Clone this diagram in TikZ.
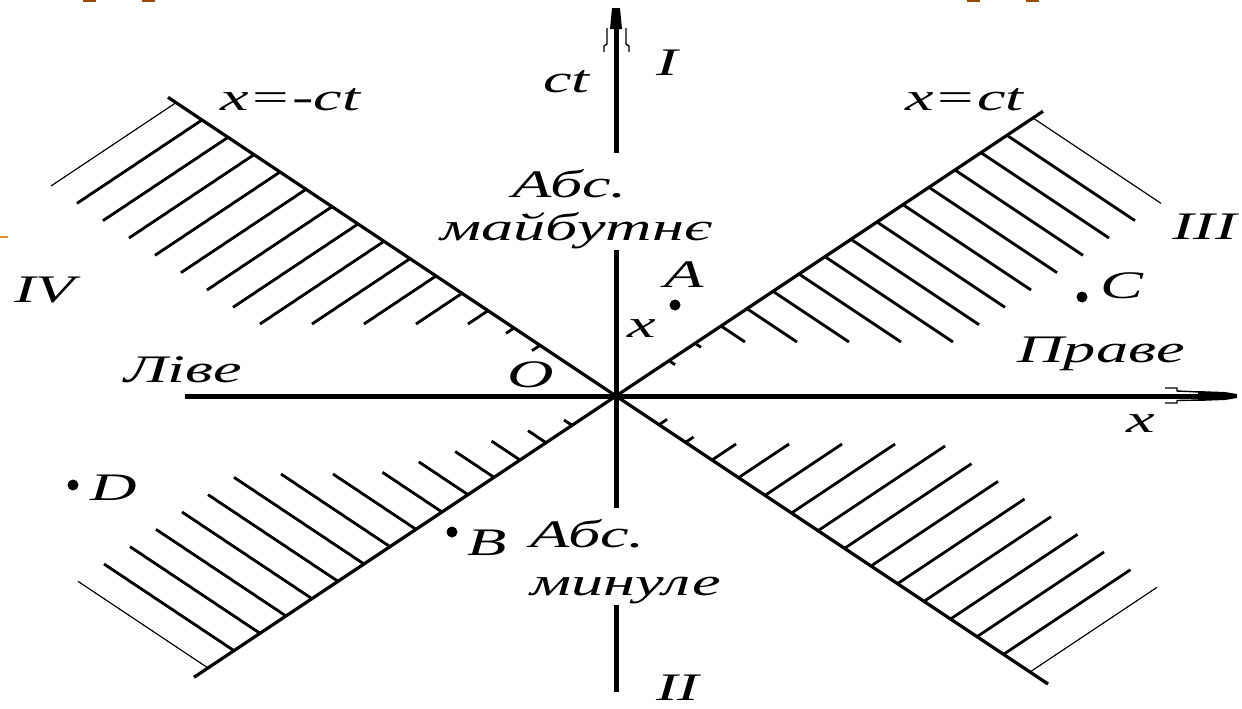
\documentclass[tikz,border=0pt]{standalone}
\usepackage{fontspec}
\newfontfamily\labfont[FakeStretch=1.65]{Liberation Serif}
\definecolor{tabbrown}{HTML}{9A4A00}
\definecolor{taborange}{HTML}{E0901E}
\begin{document}
\begin{tikzpicture}[x=0.5pt,y=-0.5pt,
  lab/.style={font=\labfont\itshape\fontsize{19.5}{20}\selectfont, inner sep=0pt, anchor=base west},
  axisline/.style={line width=2.5pt},
  cone/.style={line width=1.6pt},
  hatchline/.style={line width=1.4pt},
  thinhatch/.style={line width=0.6pt},
  barb/.style={line width=0.7pt},
  event/.style={circle, fill=black, inner sep=0pt, minimum size=5.5pt}]
\useasboundingbox[fill=white] (0,0) rectangle (1242,708);
% slide remnants
\fill[tabbrown] (83,0) rectangle (96,2);
\fill[tabbrown] (142,0) rectangle (155,2);
\fill[tabbrown] (967,0) rectangle (980,2);
\fill[tabbrown] (1026,0) rectangle (1039,2);
\fill[taborange] (0,235.5) rectangle (8,238);
% key points
\coordinate (O) at (616,396);
\coordinate (ULe) at (168,97.3);
\coordinate (URe) at (1043,111.3);
\coordinate (LLe) at (194,677.3);
\coordinate (LRe) at (1048,684);
\coordinate (xL) at (185,396);
\coordinate (xR) at (1200,396);
\coordinate (tB) at (616,692);
\coordinate (tT) at (616,28);
% axes
\draw[axisline] (xL) -- (xR);
\draw[axisline] (tB) -- (616,605);
\draw[axisline] (616,508) -- (616,250);
\draw[axisline] (616,153) -- (tT);
% arrow heads
\fill (610,29) -- (622,29) -- (620,8) -- (612,8) -- cycle;
\draw[barb] (607,28) -- (607,44) -- (604,46) -- (604,52);
\draw[barb] (626,28) -- (626,44) -- (629,46) -- (629,52);
\fill (1198,391) -- (1225,392) -- (1237,394) -- (1237,398) -- (1225,400) -- (1198,401) -- cycle;
\draw[barb] (1165,388) -- (1177,388) -- (1177,391) -- (1200,392);
\draw[barb] (1165,403) -- (1177,403) -- (1177,400.5) -- (1200,400);
% light cone
\draw[cone] (O) -- (ULe);
\draw[cone] (O) -- (URe);
\draw[cone] (O) -- (LLe);
\draw[cone] (O) -- (LRe);
% hatching upper left
\foreach \k in {0,...,14} {
  \pgfmathsetmacro\d{440-26*\k}
  \pgfmathsetmacro\t{max(8,min(125,\d-108))}
  \ifnum\k=0 \tikzset{hs/.style={thinhatch}}\else\tikzset{hs/.style={hatchline}}\fi
  \draw[hs] ({616-\d},{396-2/3*\d}) -- ++({-\t},{2/3*\t});
}
% hatching upper right
\foreach \k in {0,...,14} {
  \pgfmathsetmacro\d{417-26*\k}
  \pgfmathsetmacro\t{max(6,min(128,\d-81))}
  \ifnum\k=0 \tikzset{hs/.style={thinhatch}}\else\tikzset{hs/.style={hatchline}}\fi
  \draw[hs] ({616+\d},{396-2/3*\d}) -- ++({\t},{2/3*\t});
}
% hatching lower left
\foreach \k in {0,...,14} {
  \pgfmathsetmacro\d{408-26*\k}
  \pgfmathsetmacro\t{max(8,min(130,max(\d-117,0.4*\d-10)))}
  \ifnum\k=0 \tikzset{hs/.style={thinhatch}}\else\tikzset{hs/.style={hatchline}}\fi
  \draw[hs] ({616-\d},{396+2/3*\d}) -- ++({-\t},{-2/3*\t});
}
% hatching lower right
\foreach \k in {0,...,14} {
  \pgfmathsetmacro\d{414-26.5*\k}
  \pgfmathsetmacro\t{max(8,min(127,\d-72))}
  \ifnum\k=0 \tikzset{hs/.style={thinhatch}}\else\tikzset{hs/.style={hatchline}}\fi
  \draw[hs] ({616+\d},{396+2/3*\d}) -- ++({\t},{-2/3*\t});
}
% events
\node[event] (A) at (675,305) {};
\node[event] (B) at (452,532) {};
\node[event] (C) at (1082,297) {};
\node[event] (D) at (73,485) {};
% labels
\node[lab] (ct) at (543,92) {ct};
\node[lab] (I) at (656,75) {I};
\node[lab] (xmct) at (220,110) {x=-ct};
\node[lab] (xct) at (905,110) {x=ct};
\node[lab] (III) at (1172,239) {III};
\node[lab] (IV) at (14,302) {IV};
\node[lab] (abs1) at (512,197) {Абс.};
\node[lab] (fut) at (440,240) {майбутнє};
\node[lab] (Alab) at (664,287) {A};
\node[lab] (xs) at (627,337) {x};
\node[lab] (Clab) at (1100,298) {C};
\node[lab] (right) at (1017,362) {Праве};
\node[lab] (left) at (124,382) {Ліве};
\node[lab] (Olab) at (507,387) {O};
\node[lab] (xlab) at (1126,432) {x};
\node[lab] (Dlab) at (90,500) {D};
\node[lab] (Blab) at (467,555) {B};
\node[lab] (abs2) at (530,547) {Абс.};
\node[lab] (past) at (530,595) {минуле};
\node[lab] (II) at (656,700) {II};
\end{tikzpicture}
\end{document}
